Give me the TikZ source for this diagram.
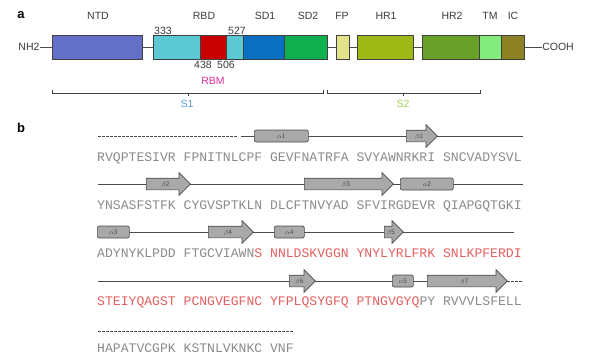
\documentclass[tikz,border=0pt]{standalone}
\usepackage{fontspec}
\setmainfont{Liberation Sans}
\newfontfamily\seqfont{Liberation Mono}
\usetikzlibrary{positioning,shapes.arrows}
\pgfdeclarelayer{back}
\pgfsetlayers{back,main}
\definecolor{ntd-color}{HTML}{6470C8}
\definecolor{rbd-color}{HTML}{5BC8D3}
\definecolor{rbm-color}{HTML}{C80000}
\definecolor{sd1-color}{HTML}{0A6FC0}
\definecolor{sd2-color}{HTML}{10B050}
\definecolor{fp-color}{HTML}{E2E28A}
\definecolor{hr1-color}{HTML}{9EB815}
\definecolor{hr2-color}{HTML}{69A02A}
\definecolor{tm-color}{HTML}{84EC7C}
\definecolor{ic-color}{HTML}{8C8224}
\definecolor{dom-line}{HTML}{404040}
\definecolor{lab-grey}{HTML}{3A3A3A}
\definecolor{s1-color}{HTML}{5B9BD5}
\definecolor{s2-color}{HTML}{A6CF5B}
\definecolor{rbmlab-color}{HTML}{E0309A}
\definecolor{ss-fill}{HTML}{A9A9A9}
\definecolor{ss-line}{HTML}{4A4A4A}
\definecolor{seq-grey}{HTML}{8A8A8A}
\definecolor{seq-red}{HTML}{E45E5E}

\begin{document}
\begin{tikzpicture}[x=1pt, y=-1pt,
                every node/.append style={align=center},
                dom/.style={draw=dom-line, line width=0.8pt, minimum height=24, inner sep=0, anchor=west, minimum width=#1},
                lab/.style={font=\fontsize{10.5}{12}\selectfont, text=lab-grey, inner sep=0},
                panel/.style={font=\fontsize{13}{15}\selectfont\bfseries, inner sep=0},
                helix/.style={draw=ss-line, fill=ss-fill, line width=0.7pt, rounded corners=2pt, minimum height=12, inner sep=0, anchor=west, minimum width=#1, font=\fontsize{6.5}{7}\selectfont, text=ss-line},
                strand/.style={shape=single arrow, draw=ss-line, fill=ss-fill, line width=0.7pt, single arrow head extend=5.5pt, single arrow tip angle=90, inner xsep=0pt, inner ysep=3pt, text height=5pt, text depth=0pt, anchor=tail, minimum height=#1, font=\fontsize{6.5}{7}\selectfont, text=ss-line},
                seq/.style={font=\seqfont\fontsize{13.1}{15}\selectfont, inner sep=0, anchor=base west, text=seq-grey},
                bb/.style={draw=ss-line, line width=0.8pt},
                brk/.style={draw=dom-line, line width=0.7pt}]
    \useasboundingbox (0,0) rectangle (592,360);

    % panel a: domain map
    \node[panel] (pa) at (21,15) {a};
    \node[lab] (nh2) at (29,47) {NH2};
    \node[lab] (cooh) at (558,47) {COOH};

    \node[dom=90, fill=ntd-color] (ntd) at (52,47) {};
    \node[dom=47, fill=rbd-color] (rbd) at (153,47) {};
    \node[dom=26, fill=rbm-color] (rbm) at (200,47) {};
    \node[dom=17, fill=rbd-color] (rbd2) at (226,47) {};
    \node[dom=41, fill=sd1-color] (sd1) at (243,47) {};
    \node[dom=43, fill=sd2-color] (sd2) at (284,47) {};
    \node[dom=13, fill=fp-color] (fp) at (336,47) {};
    \node[dom=56, fill=hr1-color] (hr1) at (357,47) {};
    \node[dom=57, fill=hr2-color] (hr2) at (422,47) {};
    \node[dom=22, fill=tm-color] (tm) at (479,47) {};
    \node[dom=23, fill=ic-color] (ic) at (501,47) {};

    \node[lab] (l-ntd) at (98,16) {NTD};
    \node[lab] (l-rbd) at (204,16) {RBD};
    \node[lab] (l-sd1) at (265,16) {SD1};
    \node[lab] (l-sd2) at (308,16) {SD2};
    \node[lab] (l-fp) at (342,16) {FP};
    \node[lab] (l-hr1) at (386,16) {HR1};
    \node[lab] (l-hr2) at (452,16) {HR2};
    \node[lab] (l-tm) at (490,16) {TM};
    \node[lab] (l-ic) at (513,16) {IC};

    \node[lab] (p333) at (163,31) {333};
    \node[lab] (p527) at (237,31) {527};
    \node[lab] (p438) at (203,65) {438};
    \node[lab] (p506) at (226,65) {506};
    \node[lab, text=rbmlab-color] (l-rbm) at (213,81) {RBM};

    \begin{pgfonlayer}{back}
        \draw[bb] (nh2.east) -- (cooh.west);
    \end{pgfonlayer}

    % S1 / S2 brackets
    \coordinate (s1a) at (52,90);
    \coordinate (s1b) at (323,90);
    \coordinate (s2a) at (327,90);
    \coordinate (s2b) at (480,90);
    \draw[brk] (s1a) -- ++(0,3) -| (s1b);
    \draw[brk] (s2a) -- ++(0,3) -| (s2b);
    \draw[brk] (188,93) -- ++(0,3);
    \draw[brk] (403,93) -- ++(0,3);
    \node[lab, text=s1-color] (l-s1) at (187,104) {S1};
    \node[lab, text=s2-color] (l-s2) at (403,104) {S2};

    % panel b: secondary structure
    \node[panel] (pb) at (21,128) {b};

    \coordinate (r1s) at (98,136);  \coordinate (r1d) at (237,136);
    \coordinate (r1t) at (241,136); \coordinate (r1e) at (523,136);
    \coordinate (r2s) at (98,184);  \coordinate (r2e) at (523,184);
    \coordinate (r3s) at (98,232);  \coordinate (r3e) at (514,232);
    \coordinate (r4s) at (98,281);  \coordinate (r4d) at (507,281);
    \coordinate (r4e) at (523,281);
    \coordinate (r5s) at (98,331);  \coordinate (r5e) at (293,331);
    \begin{pgfonlayer}{back}
        \draw[bb, dash pattern=on 2.5pt off 1.5pt] (r1s) -- (r1d);
        \draw[bb] (r1t) -- (r1e);
        \draw[bb] (r2s) -- (r2e);
        \draw[bb] (r3s) -- (r3e);
        \draw[bb] (r4s) -- (r4d);
        \draw[bb, dash pattern=on 2.5pt off 1.5pt] (r4d) -- (r4e);
        \draw[bb, dash pattern=on 2.5pt off 1.5pt] (r5s) -- (r5e);
    \end{pgfonlayer}

    \node[helix=54] (a1) at (254,136) {$\alpha$1};
    \node[strand=31] (b1) at (406,136) {$\beta$1};

    \node[strand=44] (b2) at (146,184) {$\beta$2};
    \node[strand=89] (b3) at (304,184) {$\beta$3};
    \node[helix=53] (a2) at (400,184) {$\alpha$2};

    \node[helix=32] (a3) at (97,232) {$\alpha$3};
    \node[strand=45] (b4) at (208,232) {$\beta$4};
    \node[helix=30] (a4) at (274,232) {$\alpha$4};
    \node[strand=19] (b5) at (384,232) {$\beta$5};

    \node[strand=26] (b6) at (289,281) {$\beta$6};
    \node[helix=21] (a5) at (392,281) {$\alpha$5};
    \node[strand=80] (b7) at (427,281) {$\beta$7};

    % sequence
    \node[seq] (seq1) at (97,161) {RVQPTESIVR FPNITNLCPF GEVFNATRFA SVYAWNRKRI SNCVADYSVL};
    \node[seq] (seq2) at (97,209) {YNSASFSTFK CYGVSPTKLN DLCFTNVYAD SFVIRGDEVR QIAPGQTGKI};
    \node[seq] (seq3) at (97,257) {ADYNYKLPDD FTGCVIAWN\textcolor{seq-red}{S NNLDSKVGGN YNYLYRLFRK SNLKPFERDI}};
    \node[seq] (seq4) at (97,305) {\textcolor{seq-red}{STEIYQAGST PCNGVEGFNC YFPLQSYGFQ PTNGVGYQ}PY RVVVLSFELL};
    \node[seq] (seq5) at (97,352) {HAPATVCGPK KSTNLVKNKC VNF};
\end{tikzpicture}
\end{document}
